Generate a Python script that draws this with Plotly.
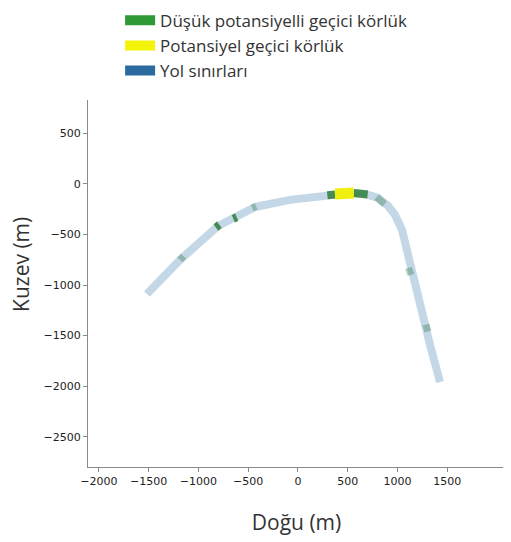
import plotly.graph_objects as go

# road centre line (m)
road_x = [-1518, -1186, -804, -633, -432, -80, 322, 523, 673, 804, 905, 975, 1045, 1126, 1226, 1327, 1427]
road_y = [-1089, -752, -416, -337, -228, -158, -109, -89, -99, -139, -218, -307, -455, -802, -1198, -1594, -1960]

# low potential temporary blindness segments (x0, y0, x1, y1)
low_segs = [
    (-825, -430, -790, -405),
    (-650, -345, -615, -330),
    (295, -112, 372, -104),
    (560, -90, 700, -104),
]
# faint (weak) low-potential marks
faint_segs = [
    (-1185, -752, -1150, -715),
    (-460, -240, -420, -222),
    (790, -130, 870, -200),
    (1110, -830, 1135, -900),
    (1285, -1390, 1305, -1460),
]
# potential temporary blindness segment
pot_x = [372, 560]
pot_y = [-100, -90]

labels = ["Düşük potansiyelli geçici körlük", "Potansiyel geçici körlük", "Yol sınırları"]
colors = ["#2e9a35", "#f4f40a", "#2b6a9e"]


def seg_xy(segs):
    xs, ys = [], []
    for x0, y0, x1, y1 in segs:
        xs += [x0, x1, None]
        ys += [y0, y1, None]
    return xs, ys


fig = go.Figure()

# legend entries
for lab, col in zip(labels, colors):
    fig.add_trace(go.Scatter(x=[None], y=[None], mode="lines", name=lab,
                             line=dict(color=col, width=10)))

# road
fig.add_trace(go.Scatter(x=road_x, y=road_y, mode="lines", showlegend=False,
                         line=dict(color="rgba(70,130,180,0.32)", width=8)))

fx, fy = seg_xy(faint_segs)
fig.add_trace(go.Scatter(x=fx, y=fy, mode="lines", showlegend=False, opacity=0.35,
                         line=dict(color="#2e7a45", width=7)))

gx, gy = seg_xy(low_segs)
fig.add_trace(go.Scatter(x=gx, y=gy, mode="lines", showlegend=False, opacity=0.8,
                         line=dict(color="#267a30", width=8)))

fig.add_trace(go.Scatter(x=pot_x, y=pot_y, mode="lines", showlegend=False,
                         line=dict(color="#f0f010", width=11)))

axis_common = dict(showgrid=False, zeroline=False, showline=True, linecolor="#8a8a8a", linewidth=1,
                   ticks="outside", ticklen=4, tickcolor="#8a8a8a",
                   tickfont=dict(family="DejaVu Sans", size=11, color="#222222"))

fig.update_xaxes(range=[-2110, 2080], tickvals=[-2000, -1500, -1000, -500, 0, 500, 1000, 1500],
                 ticktext=["\u22122000", "\u22121500", "\u22121000", "\u2212500", "0", "500", "1000", "1500"],
                 title=dict(text="Doğu (m)", font=dict(family="Open Sans", size=21, color="#333333"), standoff=28),
                 **axis_common)
fig.update_yaxes(range=[-2800, 830], tickvals=[500, 0, -500, -1000, -1500, -2000, -2500],
                 ticktext=["500", "0", "\u2212500", "\u22121000", "\u22121500", "\u22122000", "\u22122500"],
                 **axis_common)

fig.add_annotation(text="Kuzev (m)", textangle=-90, xref="paper", yref="paper",
                   x=-0.161, y=0.553, xanchor="center", yanchor="middle", showarrow=False,
                   font=dict(family="Open Sans", size=21, color="#333333"))

fig.update_layout(
    width=503, height=534,
    margin=dict(l=80, r=6, t=92, b=75, autoexpand=False),
    plot_bgcolor="white", paper_bgcolor="white",
    legend=dict(x=0.077, y=1.265, xanchor="left", yanchor="top",
                font=dict(family="Open Sans", size=17, color="#333333"), itemwidth=30,
                tracegroupgap=0, bgcolor="rgba(0,0,0,0)"),
)

fig.write_html("out.html")
